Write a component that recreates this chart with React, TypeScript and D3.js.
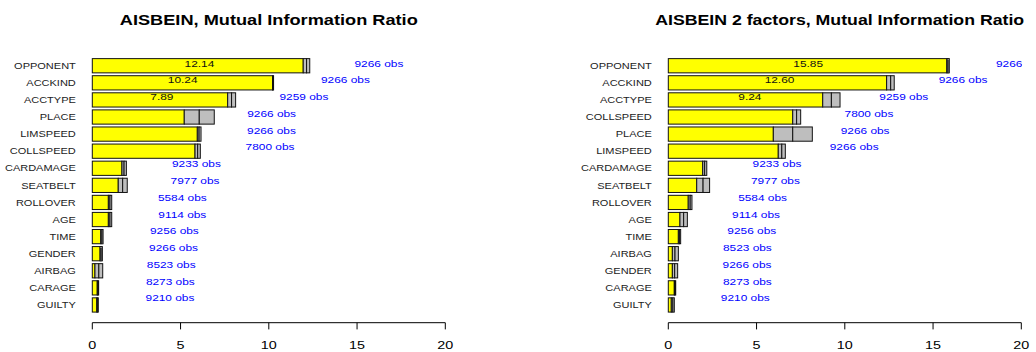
import React from "react";
import * as d3 from "d3";

// Left panel: single-factor mutual information ratio per variable (top to bottom)
const catsA = ["OPPONENT", "ACCKIND", "ACCTYPE", "PLACE", "LIMSPEED", "COLLSPEED", "CARDAMAGE", "SEATBELT", "ROLLOVER", "AGE", "TIME", "GENDER", "AIRBAG", "CARAGE", "GUILTY"];
const estA = [12.14, 10.24, 7.89, 6.06, 6.05, 5.97, 1.8, 1.72, 1.0, 1.0, 0.55, 0.5, 0.37, 0.32, 0.3];
const lowA = [11.95, 10.21, 7.67, 5.21, 5.95, 5.82, 1.68, 1.47, 0.91, 0.91, 0.48, 0.44, 0.15, 0.28, 0.25];
const highA = [12.32, 10.27, 8.12, 6.91, 6.16, 6.12, 1.93, 1.98, 1.1, 1.1, 0.61, 0.57, 0.59, 0.36, 0.34];
const obsA = [9266, 9266, 9259, 9266, 9266, 7800, 9233, 7977, 5584, 9114, 9256, 9266, 8523, 8273, 9210];

// Right panel: two-factor mutual information ratio per variable (top to bottom)
const catsB = ["OPPONENT", "ACCKIND", "ACCTYPE", "COLLSPEED", "PLACE", "LIMSPEED", "CARDAMAGE", "SEATBELT", "ROLLOVER", "AGE", "TIME", "AIRBAG", "GENDER", "CARAGE", "GUILTY"];
const estB = [15.85, 12.6, 9.24, 7.27, 7.05, 6.43, 2.06, 1.97, 1.24, 0.87, 0.63, 0.38, 0.36, 0.38, 0.26];
const lowB = [15.78, 12.37, 8.75, 7.05, 5.95, 6.23, 1.95, 1.61, 1.13, 0.66, 0.57, 0.23, 0.23, 0.34, 0.17];
const highB = [15.92, 12.8, 9.73, 7.5, 8.16, 6.63, 2.18, 2.34, 1.34, 1.08, 0.7, 0.57, 0.53, 0.42, 0.34];
const obsB = [9266, 9266, 9259, 7800, 9266, 9266, 9233, 7977, 5584, 9114, 9256, 8523, 9266, 8273, 9210];

const xTicks = [0, 5, 10, 15, 20];
const labelledCount = 3; // number of top bars carrying their value

const FONT = "'Liberation Sans', Arial, Helvetica, sans-serif";
const SX = 1.25; // horizontal text stretch

type PanelProps = {
  id: string;
  title: string;
  titleX: number;
  titleW: number;
  cats: string[];
  est: number[];
  low: number[];
  high: number[];
  obs: number[];
  x0: number;
  x1: number;
};

function SText(props: {
  x: number;
  y: number;
  size: number;
  anchor?: string;
  fill?: string;
  weight?: string | number;
  children: React.ReactNode;
}) {
  const { x, y, size, anchor = "start", fill = "#111", weight = "normal", children } = props;
  return (
    <text
      transform={`translate(${x},${y}) scale(${SX},1)`}
      fontSize={size}
      fontFamily={FONT}
      textAnchor={anchor}
      fill={fill}
      fontWeight={weight}
    >
      {children}
    </text>
  );
}

function Panel({ id, title, titleX, titleW, cats, est, low, high, obs, x0, x1 }: PanelProps) {
  const x = d3.scaleLinear().domain([0, 20]).range([x0, x1]);
  const y = d3
    .scaleBand<string>()
    .domain(cats)
    .range([57.2, 313.5])
    .paddingInner(1 / 6)
    .paddingOuter(1 / 12);
  const yText = d3.scalePoint<string>().domain(cats).range([63.2, 298]);
  const bw = y.bandwidth();
  const axisY = 322.7;
  const clipId = `clip-${id}`;

  return (
    <g>
      <defs>
        <clipPath id={clipId}>
          <rect x={x(0) - 2} y={0} width={x(20) - x(0) + 3} height={352} />
        </clipPath>
      </defs>
      <text
        x={titleX}
        y={25}
        fontSize={15}
        fontFamily={FONT}
        fontWeight="bold"
        textAnchor="middle"
        textLength={titleW}
        lengthAdjust="spacingAndGlyphs"
        fill="#000"
      >
        {title}
      </text>

      {cats.map((c, i) => {
        const top = y(c) as number;
        return (
          <g key={c}>
            <rect x={x(0)} y={top} width={x(low[i]) - x(0)} height={bw} fill="#FFFF00" stroke="#111" strokeWidth={1} />
            <rect x={x(low[i])} y={top} width={x(est[i]) - x(low[i])} height={bw} fill="#BEBEBE" stroke="#111" strokeWidth={1} />
            <rect x={x(est[i])} y={top} width={x(high[i]) - x(est[i])} height={bw} fill="#BEBEBE" stroke="#111" strokeWidth={1} />
            <SText x={x(0) - 16.5} y={top + bw / 2 + 3.2} size={8.8} anchor="end" fill="#222">
              {c}
            </SText>
            {i < labelledCount && (
              <SText x={x(est[i] / 2)} y={(yText(c) as number) + 3.4} size={9.5} anchor="middle" fill="#111">
                {est[i].toFixed(2)}
              </SText>
            )}
          </g>
        );
      })}

      <g clipPath={`url(#${clipId})`}>
        {cats.map((c, i) => (
          <SText key={c} x={x(est[i] + 4.1)} y={(yText(c) as number) + 3.4} size={9.5} anchor="middle" fill="#0000FF">
            {`${obs[i]} obs`}
          </SText>
        ))}
      </g>

      <line x1={x(0)} x2={x(20)} y1={axisY} y2={axisY} stroke="#000" strokeWidth={1} />
      {xTicks.map((t) => (
        <g key={t}>
          <line x1={x(t)} x2={x(t)} y1={axisY} y2={axisY + 6.7} stroke="#000" strokeWidth={1} />
          <SText x={x(t)} y={349} size={11.5} anchor="middle" fill="#000">
            {t}
          </SText>
        </g>
      ))}
    </g>
  );
}

export default function App() {
  return (
    <svg
      width={1036}
      height={352}
      viewBox="0 0 1036 352"
      style={{ position: "absolute", left: 0, top: 0, background: "#fff" }}
    >
      <rect x={0} y={0} width={1036} height={352} fill="#fff" />
      <Panel
        id="a"
        title="AISBEIN, Mutual Information Ratio"
        titleX={268.8}
        titleW={298}
        cats={catsA}
        est={estA}
        low={lowA}
        high={highA}
        obs={obsA}
        x0={92.3}
        x1={445.3}
      />
      <Panel
        id="b"
        title="AISBEIN 2 factors, Mutual Information Ratio"
        titleX={839.7}
        titleW={369}
        cats={catsB}
        est={estB}
        low={lowB}
        high={highB}
        obs={obsB}
        x0={668.3}
        x1={1021.3}
      />
    </svg>
  );
}
